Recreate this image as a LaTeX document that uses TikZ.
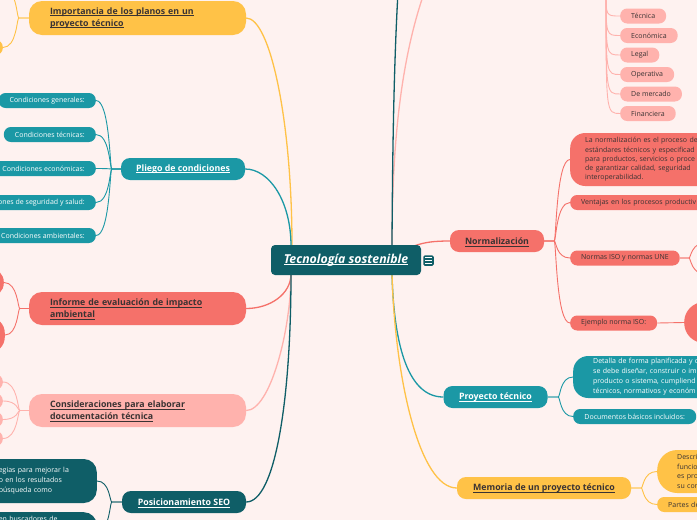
\documentclass[tikz,border=0pt]{standalone}
\usepackage{fontspec}
\setmainfont{Open Sans}
\usetikzlibrary{calc}
\definecolor{bgc}{HTML}{FEF2F0}
\definecolor{yel}{HTML}{FFC247}
\definecolor{tea}{HTML}{1B98A5}
\definecolor{dte}{HTML}{0F5E67}
\definecolor{cor}{HTML}{F5716A}
\definecolor{pnk}{HTML}{FFB2AD}
\definecolor{txd}{HTML}{3A3333}
\pgfdeclarelayer{back}\pgfdeclarelayer{conn}
\pgfsetlayers{back,conn,main}
\newcommand\myul[1]{\leavevmode\setbox0=\hbox{#1}\rlap{\smash{\rule[-1.8pt]{\wd0}{0.6pt}}}\box0}
\tikzset{
 mainbox/.style={rounded corners=9pt, minimum height=22pt, inner xsep=12pt, inner ysep=0pt, font=\fontsize{8.8}{10}\selectfont\bfseries},
 twobox/.style={rounded corners=13pt, minimum height=34pt, text width=175pt, align=left, inner xsep=21pt, inner ysep=0pt, font=\fontsize{8.8}{12}\selectfont\bfseries, text=txd},
 subbox/.style={rounded corners=7pt, minimum height=15pt, inner xsep=11pt, inner ysep=0pt, font=\fontsize{7}{8}\selectfont},
 subw/.style={subbox, text width=120pt, align=left},
 parabox/.style={align=left, inner ysep=0pt, font=\fontsize{7}{9.3}\selectfont},
 blank/.style={inner sep=0pt},
 lk/.style={line width=1.3pt},
 sl/.style={line width=0.9pt},
}
\begin{document}
\begin{tikzpicture}[x=1pt,y=-1pt]
\useasboundingbox (0,0) rectangle (697,520);
\begin{pgfonlayer}{back}\fill[bgc] (0,0) rectangle (697,520);\end{pgfonlayer}
\clip (0,0) rectangle (697,520);

% ---- centre
\node[fill=dte, text=white, rounded corners=4pt, minimum width=150pt, minimum height=30pt, inner sep=0pt, font=\fontsize{12.3}{14}\selectfont\bfseries\itshape] (ctr) at (346,260) {\myul{Tecnología sostenible}};
\node[fill=dte, rounded corners=1.5pt, minimum size=10.5pt, blank] (icon) at (428.5,260.5) {};
\foreach \dy in {-2.7,0,2.7} \draw[white, line width=0.7pt] ($(icon.center)+(-3.1,\dy)$) -- ++(6.2,0);
\coordinate (cT1) at (292,246);
\coordinate (cT2) at (291,246);
\coordinate (cB1) at (291,274);
\coordinate (cTR) at (392,246);
\coordinate (cBR) at (392,274);
\coordinate (cNR) at (414,246);
\coordinate (viab) at (460,-80);
\coordinate (dtop) at (420,-180);

% ---- left main branches
\node[twobox, fill=yel] (imp) at (137.5,18) {\myul{Importancia de los planos en un}\\\myul{proyecto técnico}};
\node[mainbox, fill=tea, text=white, minimum width=124pt] (pliego) at (183,169) {\myul{Pliego de condiciones}};
\node[twobox, fill=cor, minimum height=33pt] (inf) at (137.5,308.5) {\myul{Informe de evaluación de impacto}\\\myul{ambiental}};
\node[twobox, fill=pnk, minimum height=33pt] (cons) at (137.5,410.5) {\myul{Consideraciones para elaborar}\\\myul{documentación técnica}};
\node[mainbox, fill=dte, text=white, minimum width=124pt] (seo) at (184,502) {\myul{Posicionamiento SEO}};

% importancia children
\coordinate (imc1) at (3,-12);
\node[fill=yel, rounded corners=7pt, minimum width=60pt, minimum height=15pt, anchor=east, blank] (imc2) at (3,47.5) {};
% pliego children
\node[subbox, fill=tea, text=white, anchor=east] (pc1) at (96,100.5) {Condiciones generales:};
\node[subbox, fill=tea, text=white, anchor=east] (pc2) at (96,134.5) {Condiciones técnicas:};
\node[subbox, fill=tea, text=white, anchor=east] (pc3) at (96,168.5) {Condiciones económicas:};
\node[subbox, fill=tea, text=white, anchor=east] (pc4) at (96,202.5) {Condiciones de seguridad y salud:};
\node[subbox, fill=tea, text=white, anchor=east] (pc5) at (96,235.5) {Condiciones ambientales:};
% informe children
\node[fill=cor, rounded corners=14pt, minimum width=80pt, minimum height=29pt, anchor=east, blank] (if1) at (4,282.5) {};
\node[fill=cor, rounded corners=16pt, minimum width=80pt, minimum height=36pt, anchor=east, blank] (if2) at (5,335) {};
% consideraciones children
\node[fill=pnk, rounded corners=7pt, minimum width=60pt, minimum height=15pt, anchor=east, blank] (cs1) at (3,382) {};
\node[fill=pnk, rounded corners=7pt, minimum width=60pt, minimum height=15pt, anchor=east, blank] (cs2) at (3,401) {};
\node[fill=pnk, rounded corners=7pt, minimum width=60pt, minimum height=15pt, anchor=east, blank] (cs3) at (3,419.5) {};
\node[fill=pnk, rounded corners=7pt, minimum width=60pt, minimum height=15pt, anchor=east, blank] (cs4) at (3,438.5) {};
% seo children
\node[parabox, fill=dte, text=white, rounded corners=13pt, anchor=east, text width=84pt, inner xsep=14pt, minimum height=44pt, font=\fontsize{7}{10}\selectfont] (seo1) at (97,481) {egias para mejorar la\\o en los resultados\\búsqueda como};
\node[parabox, fill=dte, text=white, rounded corners=13pt, anchor=north east, text width=84pt, inner xsep=14pt, inner ysep=4pt, text depth=26pt] (seo2) at (97,512) {en buscadores de};

% ---- right main branches
\node[mainbox, fill=cor, text=txd, minimum width=94pt] (norm) at (497,241) {\myul{Normalización}};
\node[mainbox, fill=tea, text=white, minimum width=104pt] (proy) at (495.5,397) {\myul{Proyecto técnico}};
\node[mainbox, fill=yel, text=txd, minimum width=174pt] (memo) at (544,488) {\myul{Memoria de un proyecto técnico}};

% top pink group
\coordinate (vsp) at (606,-8);
\node[subbox, fill=pnk, text=txd, anchor=west] (tc1) at (620,16) {Técnica};
\node[subbox, fill=pnk, text=txd, anchor=west] (tc2) at (620,35.5) {Económica};
\node[subbox, fill=pnk, text=txd, anchor=west] (tc3) at (620,55) {Legal};
\node[subbox, fill=pnk, text=txd, anchor=west] (tc4) at (620,74.5) {Operativa};
\node[subbox, fill=pnk, text=txd, anchor=west] (tc5) at (620,94) {De mercado};
\node[subbox, fill=pnk, text=txd, anchor=west] (tc6) at (620,113.5) {Financiera};

% normalizacion children
\node[parabox, fill=cor, text=txd, anchor=west, rounded corners=15pt, text width=130pt, inner xsep=15pt, minimum height=53pt] (nc1) at (570,159.5) {La normalización es el proceso de\\estándares técnicos y especificad\\para productos, servicios o proce\\de garantizar calidad, seguridad\\interoperabilidad.};
\node[subw, fill=cor, text=txd, anchor=west] (nc2) at (570,202.5) {Ventajas en los procesos productiv};
\node[subbox, fill=cor, text=txd, anchor=west] (nc3) at (570,258) {Normas ISO y normas UNE};
\node[subbox, fill=cor, text=txd, anchor=west] (nc4) at (570,323) {Ejemplo norma ISO:};
\node[fill=cor, rounded corners=20pt, minimum width=70pt, minimum height=41pt, anchor=west, blank] (nc5) at (684,322.5) {};
\coordinate (ns1) at (708,242);
\coordinate (ns2) at (708,275);

% proyecto children
\node[parabox, fill=tea, text=white, anchor=west, rounded corners=15pt, text width=130pt, inner xsep=20pt, minimum height=42pt, font=\fontsize{7}{10}\selectfont] (pr1) at (573,377) {Detalla de forma planificada y c\\se debe diseñar, construir o im\\producto o sistema, cumpliend\\técnicos, normativos y económ};
\node[subbox, fill=tea, text=white, anchor=west, minimum width=123pt] (pr2) at (573,416.5) {Documentos básicos incluidos:};

% memoria children
\node[parabox, fill=yel, text=txd, anchor=west, rounded corners=20pt, text width=60pt, inner xsep=20pt, minimum height=43pt, font=\fontsize{7}{9.7}\selectfont] (mc1) at (657,471.5) {Descri\\funcio\\es pro\\su con};
\node[subw, fill=yel, text=txd, anchor=west] (mc2) at (657,504.5) {Partes de};

% ---- connectors
\begin{pgfonlayer}{conn}
\begin{scope}
\clip (0,0) rectangle (697,520);
\draw[lk, yel] (imp.east) .. controls +(24,0) and +(0,-125) .. (cT1);
\draw[lk, tea] (pliego.east) .. controls +(24,0) and +(0,-45) .. (cT2);
\draw[lk, cor] (inf.east) .. controls +(24,0) and +(0,20) .. (cB1);
\draw[lk, pnk] (cons.east) .. controls +(24,0) and +(0,56) .. (cB1);
\draw[lk, dte] (seo.east) .. controls +(29,0) and +(0,126) .. (cB1);
\draw[lk, cor] (cNR) .. controls +(11,-4) and +(-15,0) .. (norm.west);
\draw[lk, tea] (cBR) .. controls +(2,75) and +(-34,0) .. (proy.west);
\draw[lk, yel] (cBR) .. controls +(3,106) and +(-37,0) .. (memo.west);
\draw[lk, pnk] (cTR) .. controls +(0,-125) and +(-55,80) .. (viab);
\draw[lk, dte] (cTR) .. controls +(1,-195) and +(-22,80) .. (dtop);

% left sub-branches
\coordinate (imS) at ($(imp.west)+(-12,0)$);
\coordinate (imE) at ($(imp.west)+(-10,0)$);
\draw[sl, yel] (imc1) .. controls (imc1 -| imS) and (imS) .. (imE) -- (imp.west);
\draw[sl, yel] (imc2.east) .. controls (imc2.east -| imS) and (imS) .. (imE) -- (imp.west);

\coordinate (plS) at ($(pliego.west)+(-11,0)$);
\coordinate (plE) at ($(pliego.west)+(-9,0)$);
\foreach \c in {pc1,pc2,pc3,pc4,pc5}
  \draw[sl, tea] (\c.east) .. controls (\c.east -| plS) and (plS) .. (plE) -- (pliego.west);

\coordinate (ifS) at ($(inf.west)+(-11,0)$);
\coordinate (ifE) at ($(inf.west)+(-9,0)$);
\foreach \c in {if1,if2}
  \draw[sl, cor] (\c.east) .. controls (\c.east -| ifS) and (ifS) .. (ifE) -- (inf.west);

\coordinate (csS) at ($(cons.west)+(-11,0)$);
\coordinate (csE) at ($(cons.west)+(-9,0)$);
\foreach \c in {cs1,cs2,cs3,cs4}
  \draw[sl, pnk] (\c.east) .. controls (\c.east -| csS) and (csS) .. (csE) -- (cons.west);

\coordinate (seS) at ($(seo.west)+(-12,0)$);
\coordinate (seE) at ($(seo.west)+(-10,0)$);
\foreach \c in {seo1,seo2}
  \draw[sl, dte] (\c.east) .. controls (\c.east -| seS) and (seS) .. (seE) -- (seo.west);

% right sub-branches
\foreach \c in {tc1,tc2,tc3,tc4,tc5,tc6}
  \draw[sl, pnk] (vsp) .. controls (\c.west -| vsp) .. (\c.west);

\coordinate (nS) at ($(norm.east)+(12,0)$);
\coordinate (nE) at ($(norm.east)+(10,0)$);
\foreach \c in {nc1,nc2,nc3,nc4}
  \draw[sl, cor] (norm.east) -- (nE) .. controls (nS) and (\c.west -| nS) .. (\c.west);

\coordinate (nsS) at ($(nc3.east)+(11,0)$);
\coordinate (nsE) at ($(nc3.east)+(9,0)$);
\foreach \c in {ns1,ns2}
  \draw[sl, cor] (nc3.east) -- (nsE) .. controls (nsS) and (\c -| nsS) .. (\c);
\draw[sl, cor] (nc4.east) -- (nc5.west);

\coordinate (pS) at ($(proy.east)+(12.5,0)$);
\coordinate (pE) at ($(proy.east)+(10.5,0)$);
\foreach \c in {pr1,pr2}
  \draw[sl, tea] (proy.east) -- (pE) .. controls (pS) and (\c.west -| pS) .. (\c.west);

\coordinate (mS) at ($(memo.east)+(12,0)$);
\coordinate (mE) at ($(memo.east)+(10,0)$);
\foreach \c in {mc1,mc2}
  \draw[sl, yel] (memo.east) -- (mE) .. controls (mS) and (\c.west -| mS) .. (\c.west);
\end{scope}
\end{pgfonlayer}
\end{tikzpicture}
\end{document}
